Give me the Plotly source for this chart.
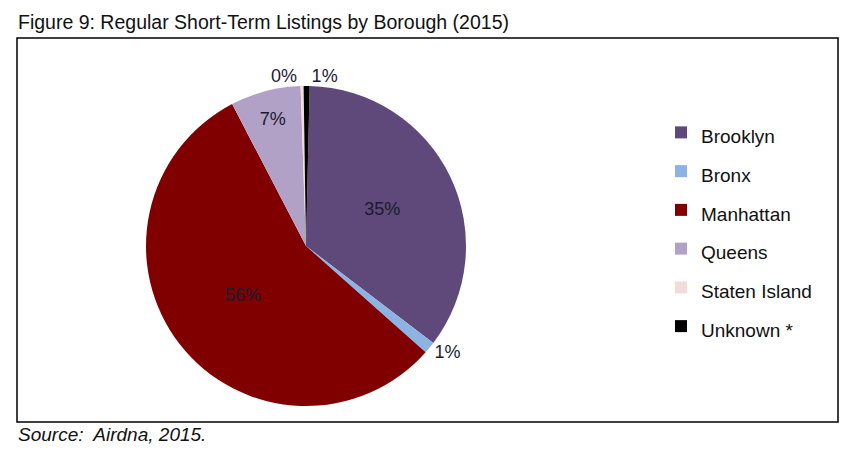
import plotly.graph_objects as go

# Data (share of regular short-term listings, %)
boroughs = ["Brooklyn", "Bronx", "Manhattan", "Queens", "Staten Island", "Unknown *"]
shares = [35.0, 1.2, 55.8, 7.1, 0.3, 0.6]
colors = ["#5F497A", "#8DB3E2", "#800000", "#B2A1C7", "#F2DCDB", "#000000"]
text_pos = ["inside", "outside", "inside", "inside", "outside", "outside"]

# page body has an 8px margin, so the figure is drawn 16px smaller
W, H = 838, 437
OFF = 8


def px(x):
    return (x - OFF) / W


def py(y):
    return 1 - (y - OFF) / H


text_color = "#1b1b2f"

# legend labels at normal size, legend font larger to space the rows out
legend_labels = ["<span style='font-size:19px'>%s</span>" % b for b in boroughs]

fig = go.Figure(go.Pie(
    labels=legend_labels,
    values=shares,
    sort=False,
    direction="clockwise",
    rotation=1.3,
    marker=dict(colors=colors, line=dict(width=0)),
    texttemplate="%{percent:.0%}",
    textposition=text_pos,
    insidetextorientation="horizontal",
    textfont=dict(family="Liberation Sans", size=18, color=text_color),
    domain=dict(x=[px(146), px(466)], y=[py(406), py(86)]),
    hovertemplate="%{label}: %{value}%<extra></extra>",
))

fig.update_layout(
    width=W, height=H,
    margin=dict(l=0, r=0, t=0, b=0),
    paper_bgcolor="white",
    font=dict(family="Liberation Sans", color="#111111"),
    showlegend=True,
    legend=dict(
        x=px(661), y=py(108), xanchor="left", yanchor="top",
        font=dict(size=27.5, color="#111111"),
        bgcolor="rgba(0,0,0,0)",
    ),
    shapes=[dict(
        type="rect", xref="paper", yref="paper",
        x0=px(17), x1=px(838), y0=py(422), y1=py(38),
        line=dict(color="black", width=1.5), fillcolor="rgba(0,0,0,0)",
        layer="below",
    )],
    annotations=[
        dict(text="Figure 9: Regular Short-Term Listings by Borough (2015)",
             xref="paper", yref="paper", x=px(16), y=py(22),
             xanchor="left", yanchor="middle", showarrow=False,
             font=dict(size=19.5, color="#111111")),
        dict(text="<i>Source:  Airdna, 2015.</i>",
             xref="paper", yref="paper", x=px(16), y=py(434),
             xanchor="left", yanchor="middle", showarrow=False,
             font=dict(size=19, color="#111111")),
    ],
)

fig.write_html("out.html")
